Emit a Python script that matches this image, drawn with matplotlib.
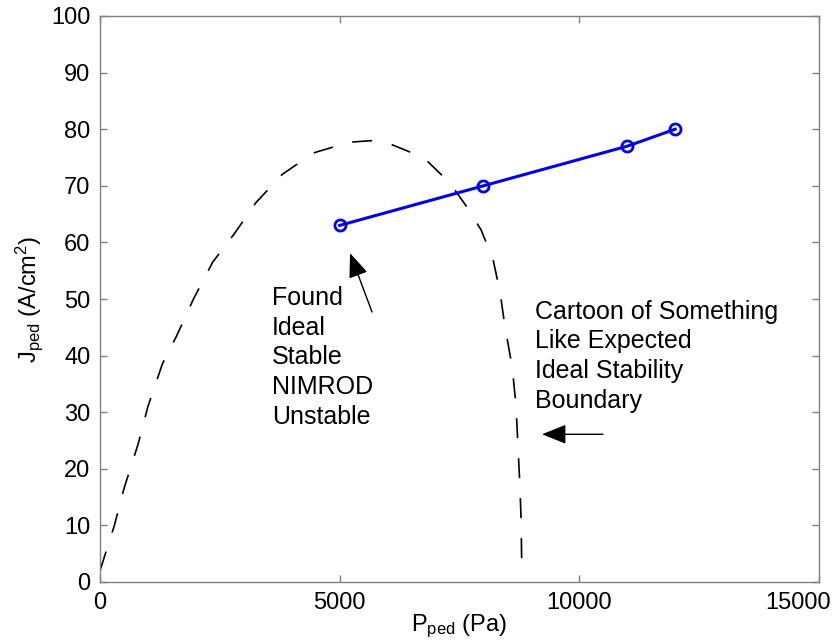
import matplotlib
matplotlib.use("Agg")
import matplotlib.pyplot as plt
from matplotlib.transforms import ScaledTranslation

plt.rcParams['font.family'] = ['Liberation Sans', 'DejaVu Sans']
plt.rcParams['mathtext.fontset'] = 'custom'
plt.rcParams['mathtext.rm'] = 'Liberation Sans'
plt.rcParams['mathtext.it'] = 'Liberation Sans'

# NIMROD pedestal scan: pressure (Pa) vs current density (A/cm^2)
p_ped = [5000, 8000, 11000, 12000]
j_ped = [63, 70, 77, 80]

# Sketched ideal stability boundary
boundary_p = [0, 150, 300, 500, 800, 1000, 1300, 1600, 1950, 2350, 2800, 3250,
              3800, 4450, 5200, 5700, 6050, 6750, 7300, 7650, 7950, 8200, 8350,
              8450, 8600, 8680, 8720, 8760, 8785, 8800]
boundary_j = [2, 6, 10, 16.5, 24.5, 31, 38.5, 43.5, 50, 56.5, 61.5, 67,
              72, 75.8, 77.7, 78, 77.4, 75, 70.5, 66.3, 62.2, 57, 51,
              45, 38, 31, 24, 17, 11, 2]

x_ticks = [0, 5000, 10000, 15000]
y_ticks = [0, 10, 20, 30, 40, 50, 60, 70, 80, 90, 100]

fig = plt.figure(figsize=(8.36, 6.44), dpi=100)
ax = fig.add_axes([100/836, 62/644, 719/836, 566/644])

ax.plot(boundary_p, boundary_j, color='black', lw=1.2, dashes=(12, 12))
ax.plot(p_ped, j_ped, color='#0000ee', lw=2.2, marker='o', ms=8,
        mfc='none', mec='#0000ee', mew=2.0)

ax.set_xlim(0, 15000)
ax.set_ylim(0, 100)
ax.set_xticks(x_ticks)
ax.set_yticks(y_ticks)
ax.set_xticklabels([str(v) for v in x_ticks])
ax.set_yticklabels([str(v) for v in y_ticks])

for s in ax.spines.values():
    s.set_color('#808080')
    s.set_linewidth(1.0)
ax.tick_params(direction='in', length=5, width=1.0, color='#808080',
               labelsize=17, labelcolor='black', top=True, right=True, pad=7)

# keep the last x tick label inside the figure
last = ax.get_xticklabels()[-1]
last.set_transform(last.get_transform() + ScaledTranslation(-0.21, 0, fig.dpi_scale_trans))

ax.set_xlabel(r'$\mathregular{P_{ped}}$ (Pa)', fontsize=17, labelpad=-1)
ax.set_ylabel(r'$\mathregular{J_{ped}}$ (A/cm$\mathregular{^2}$)', fontsize=17, labelpad=4)

ax.text(3588, 52.3, 'Found\nIdeal\nStable\nNIMROD\nUnstable', fontsize=18,
        ha='left', va='top', linespacing=1.3)
ax.text(9075, 49.9, 'Cartoon of Something\nLike Expected\nIdeal Stability\nBoundary',
        fontsize=18, ha='left', va='top', linespacing=1.3)

arrow_style = dict(arrowstyle='-|>,head_length=1.5,head_width=0.6',
                   color='black', lw=1.0, shrinkA=0, shrinkB=0)
ax.annotate('', xy=(5216, 58.1), xytext=(5675, 47.7), arrowprops=arrow_style)
ax.annotate('', xy=(9221, 26.1), xytext=(10494, 26.1), arrowprops=arrow_style)

fig.savefig('out.png', dpi=100)
